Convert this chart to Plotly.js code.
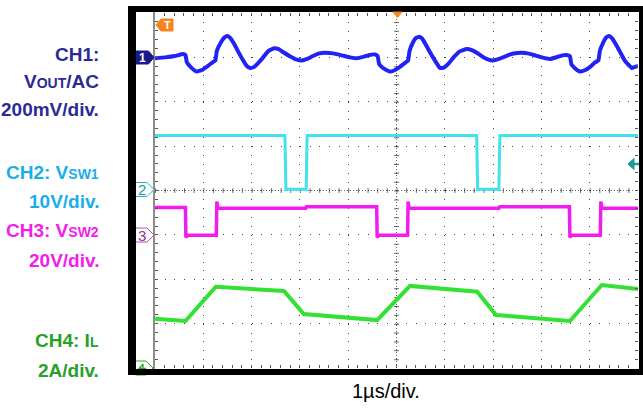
<!DOCTYPE html>
<html>
<head>
<meta charset="utf-8">
<script src="https://cdn.plot.ly/plotly-3.0.1.min.js"></script>
<style>html,body{margin:0;padding:0;background:#fff;}#chart{width:643px;height:408px;}</style>
</head>
<body>
<div id="chart"></div>
<script>
// ---- data (time in µs, trigger at 0) ----
const ch1Time = [-5.00,-4.79,-4.59,-4.42,-4.37,-4.34,-4.25,-4.14,-4.03,-3.91,-3.80,-3.75,-3.72,-3.63,-3.56,-3.50,-3.44,-3.36,-3.28,-3.18,-3.10,-3.03,-2.95,-2.87,-2.76,-2.66,-2.55,-2.45,-2.35,-2.20,-2.08,-1.96,-1.85,-1.73,-1.60,-1.48,-1.31,-1.13,-0.96,-0.82,-0.69,-0.56,-0.44,-0.39,-0.36,-0.28,-0.14,
  -0.05,0.07,0.20,0.24,0.27,0.34,0.40,0.47,0.53,0.61,0.69,0.80,0.90,0.98,1.09,1.19,1.31,1.45,1.56,1.67,1.79,1.89,2.00,2.12,2.25,2.37,2.50,2.59,2.72,2.87,3.01,3.18,3.30,3.43,3.52,3.59,3.62,3.70,3.80,3.91,4.01,4.11,4.18,4.21,4.28,4.34,4.40,4.46,4.55,4.63,4.73,4.87,4.94,5.00];
const ch1Vout = [-4,0,6,15,11,-23,-46,-64,-57,-39,-21,-14,29,69,90,96,87,60,27,-12,-39,-48,-43,-27,0,27,40,38,24,4,-9,-14,-7,6,18,21,18,9,0,-4,2,11,13,6,-30,-48,-64,
  -59,-43,-21,-14,29,67,87,93,85,56,24,-16,-48,-46,-25,2,27,38,33,20,2,-9,-14,-7,4,15,20,21,18,9,0,-7,0,9,11,6,-30,-50,-64,-57,-43,-23,-14,29,67,90,96,87,56,24,-16,-48,-43,-39]; // mV

const ch2Time = [-5,-2.31,-2.29,-1.87,-1.85,1.66,1.68,2.12,2.14,5];
const ch2Vsw1 = [12.4,12.4,0.3,0.3,12.4,12.4,0.3,0.3,12.4,12.4]; // V

const ch3Time = [-5,-4.37,-4.36,-4.33,-3.73,-3.72,-3.70,-1.88,-1.86,-0.41,-0.40,-0.37,0.23,0.24,0.26,2.12,2.14,3.58,3.59,3.62,4.22,4.23,4.25,5];
const ch3Vsw2 = [12.3,12.3,-1.2,-0.2,-0.2,15,12.0,12.0,12.7,12.7,-1.2,-0.2,-0.2,15,12.0,12.0,12.7,12.7,-1.2,-0.2,-0.2,15,12.0,12.0]; // V

const ch4Time = [-5.00,-4.37,-3.74,-2.33,-1.92,-0.40,0.28,1.67,2.06,3.59,4.25,5.00];
const ch4IL   = [2.22,2.12,3.66,3.47,2.43,2.16,3.70,3.44,2.39,2.12,3.74,3.56]; // A

const SUB = s => '<span style="font-size:14px">' + s + '</span>';
const labels = ['CH1:','V'+SUB('OUT')+'/AC','200mV/div.','CH2: V'+SUB('SW1'),'10V/div.','CH3: V'+SUB('SW2'),'20V/div.','CH4: I'+SUB('L'),'2A/div.'];
const timeLabel = '1µs/div.';

// ---- styling ----
const C1='#2222f4', C2='#40e2f0', C3='#f01cf0', C4='#33e033';
const T1='#2b2b96', T2='#1aaee8', T3='#f21cee', T4='#27a027';
const W=643, H=408, ML=155, MR=5, MT=13, MB=40;
const PW=W-ML-MR, PH=H-MT-MB;
const X = px => (px-ML)/PW;
const Y = py => (H-MB-py)/PH;
const FONT='Liberation Sans, Arial, sans-serif';

const traces = [
  {x:ch4Time, y:ch4IL, yaxis:'y', mode:'lines', line:{color:C4,width:4}},
  {x:ch1Time, y:ch1Vout, yaxis:'y2', mode:'lines', line:{color:C1,width:4,shape:'spline',smoothing:0.3}},
  {x:ch2Time, y:ch2Vsw1, yaxis:'y3', mode:'lines', line:{color:C2,width:3}},
  {x:ch3Time, y:ch3Vsw2, yaxis:'y4', mode:'lines', line:{color:C3,width:3.5}}
];

function tagPath(x0,x1,tip,yc,h){
  return `M${X(x0)},${Y(yc-h)} L${X(x1)},${Y(yc-h)} L${X(tip)},${Y(yc)} L${X(x1)},${Y(yc+h)} L${X(x0)},${Y(yc+h)} Z`;
}
const P = {xref:'paper', yref:'paper'};
const shapes = [
  Object.assign({type:'line', x0:0, x1:1, y0:0.5, y1:0.5, line:{color:'#666',width:1,dash:'1px,2px'}, layer:'below'},P),
  Object.assign({type:'line', x0:0, x1:1, y0:0.5, y1:0.5, line:{color:'#777',width:5,dash:'1px,8.66px'}, layer:'below'},P),
  Object.assign({type:'line', x0:0.5, x1:0.5, y0:1, y1:0, line:{color:'#666',width:1,dash:'1px,2px'}, layer:'below'},P),
  Object.assign({type:'line', x0:0.5, x1:0.5, y0:1, y1:0, line:{color:'#777',width:5,dash:'1px,7.875px'}, layer:'below'},P),
  Object.assign({type:'line', x0:X(154), x1:X(154), y0:Y(12), y1:Y(369), line:{color:'#8c8c8c',width:2}},P),
  Object.assign({type:'path', path:tagPath(135.5,148.5,154,57.5,6.5), fillcolor:'#1a1a8c', line:{color:'#1a1a8c',width:1}},P),
  Object.assign({type:'path', path:tagPath(135.5,147,154,189.5,7), fillcolor:'#ffffff', line:{color:'#2ab0b0',width:1}},P),
  Object.assign({type:'path', path:tagPath(135.5,147,154,235,7), fillcolor:'#ffffff', line:{color:'#b050b0',width:1}},P),
  Object.assign({type:'path', path:tagPath(135.5,146,153,368,7), fillcolor:'#ffffff', line:{color:'#30a030',width:1}},P),
  Object.assign({type:'path', path:`M${X(143)},${Y(364)} L${X(139)},${Y(368.5)} L${X(146)},${Y(368.5)} M${X(143)},${Y(364)} L${X(143)},${Y(369)}`, line:{color:'#30a030',width:1.3}},P),
  Object.assign({type:'path', path:`M${X(628)},${Y(164)} L${X(634)},${Y(158.5)} L${X(634)},${Y(169.5)} Z`, fillcolor:'#1a9a9a', line:{color:'#1a9a9a',width:1}},P),
  Object.assign({type:'line', x0:X(633), x1:X(639), y0:Y(164), y1:Y(164), line:{color:'#1a9a9a',width:2.5}},P),
  Object.assign({type:'path', path:`M${X(156)},${Y(25)} L${X(161)},${Y(19)} L${X(173)},${Y(19)} L${X(173)},${Y(31)} L${X(161)},${Y(31)} Z`, fillcolor:'#f5841f', line:{color:'#f5841f',width:1}},P),
  Object.assign({type:'rect', x0:X(128), x1:X(643), y0:Y(6), y1:Y(12), fillcolor:'#000', line:{width:0}, layer:'above'},P),
  Object.assign({type:'rect', x0:X(128), x1:X(643), y0:Y(369), y1:Y(375), fillcolor:'#000', line:{width:0}, layer:'above'},P),
  Object.assign({type:'rect', x0:X(128), x1:X(136), y0:Y(6), y1:Y(375), fillcolor:'#000', line:{width:0}, layer:'above'},P),
  Object.assign({type:'rect', x0:X(639), x1:X(643), y0:Y(6), y1:Y(375), fillcolor:'#000', line:{width:0}, layer:'above'},P),
  Object.assign({type:'path', path:`M${X(393)},${Y(12)} L${X(402)},${Y(12)} L${X(397.5)},${Y(17.5)} Z`, fillcolor:'#f08a24', line:{color:'#f08a24',width:1}},P)
];

const labelY = [55,82,110,173,201,230,260,340,370];
const labelC = [T1,T1,T1,T2,T2,T3,T3,T4,T4];
const annotations = labels.map((t,i)=>({text:t, xref:'paper', yref:'paper', x:X(101), y:Y(labelY[i]), xanchor:'right', yanchor:'middle', showarrow:false, font:{family:FONT,size:19,weight:700,color:labelC[i]}}));
annotations.push({text:timeLabel, xref:'paper', yref:'paper', x:X(385.5), y:Y(391), xanchor:'center', yanchor:'middle', showarrow:false, font:{family:FONT,size:20,color:'#000'}});
annotations.push({text:'1', xref:'paper', yref:'paper', x:X(142), y:Y(57.5), xanchor:'center', yanchor:'middle', showarrow:false, font:{family:FONT,size:12,weight:700,color:'#fff'}});
annotations.push({text:'2', xref:'paper', yref:'paper', x:X(141.5), y:Y(189.5), xanchor:'center', yanchor:'middle', showarrow:false, font:{family:FONT,size:15,color:'#1a9898'}});
annotations.push({text:'3', xref:'paper', yref:'paper', x:X(141.5), y:Y(235), xanchor:'center', yanchor:'middle', showarrow:false, font:{family:FONT,size:15,color:'#9a2a9a'}});
annotations.push({text:'T', xref:'paper', yref:'paper', x:X(167.5), y:Y(25), xanchor:'center', yanchor:'middle', showarrow:false, font:{family:FONT,size:11,weight:700,color:'#fff'}});

const axBase = {showticklabels:false, ticks:'inside', ticklen:3, tickcolor:'#555', tickwidth:1, mirror:'ticks', showline:false, zeroline:false, showgrid:true, gridcolor:'#444', gridwidth:1, fixedrange:true};
const layout = {
  width:W, height:H, margin:{l:ML,r:MR,t:MT,b:MB,pad:0},
  paper_bgcolor:'#fff', plot_bgcolor:'#fff', showlegend:false,
  font:{family:FONT},
  xaxis:Object.assign({}, axBase, {range:[-5,5], tick0:0, dtick:1, griddash:'1px,7.875px', minor:{dtick:0.2, ticks:'inside', ticklen:3, tickcolor:'#555', showgrid:false}}),
  yaxis:Object.assign({}, axBase, {range:[0,16], tick0:0, dtick:2, griddash:'1px,8.66px', minor:{dtick:0.4, ticks:'inside', ticklen:3, tickcolor:'#555', showgrid:false}}),
  yaxis2:{overlaying:'y', range:[-1400,200], visible:false, fixedrange:true},
  yaxis3:{overlaying:'y', range:[-40,40], visible:false, fixedrange:true},
  yaxis4:{overlaying:'y', range:[-60,100], visible:false, fixedrange:true},
  shapes:shapes, annotations:annotations
};
Plotly.newPlot('chart', traces, layout, {staticPlot:true, displayModeBar:false});
</script>
</body>
</html>
